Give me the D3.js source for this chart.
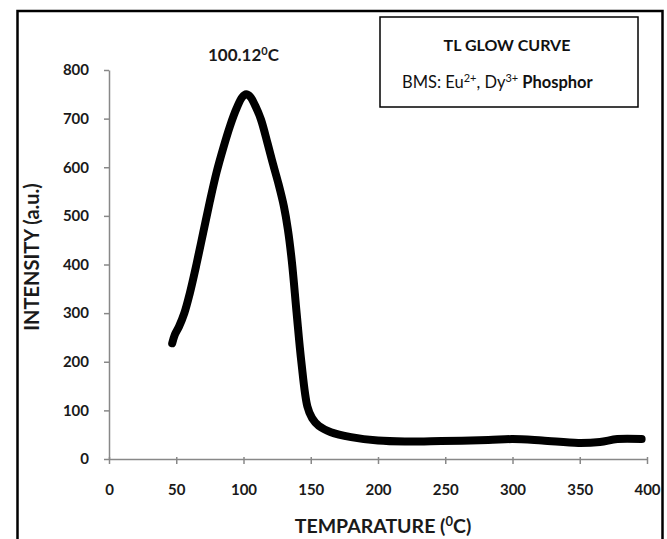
<!DOCTYPE html>
<html>
<head>
<meta charset="utf-8">
<script src="https://cdn.jsdelivr.net/npm/d3@7"></script>
<style>
  body { margin: 0; background: #fff; }
  text { font-family: Lato, 'Open Sans', sans-serif; }
</style>
</head>
<body>
<div id="chart"></div>
<script>
// TL glow curve
const temperature = [47, 49, 52, 56, 60, 65, 70, 75, 80, 85, 90, 95, 99, 102, 105, 109, 113, 118, 122, 126, 130,
  133, 136, 139.5, 143, 147.5, 151, 156, 165, 180, 200, 220, 247, 282, 300, 322, 349, 365, 378, 396];
const intensity = [238, 256, 272, 300, 340, 400, 465, 530, 590, 640, 685, 722, 744, 750, 745, 725, 698, 648, 606, 566, 520,
  472, 405, 300, 200, 108, 84, 68, 55, 45, 38, 36, 37, 39, 41, 38, 33, 35, 41, 41];
const xTicks = [0, 50, 100, 150, 200, 250, 300, 350, 400];
const yTicks = [0, 100, 200, 300, 400, 500, 600, 700, 800];

const W = 667;
const H = 539;
const margin = { left: 109, right: 20, top: 70, bottom: 80 };

const svg = d3.select('#chart')
  .append('svg')
  .attr('width', W)
  .attr('height', H);

// outer frame
svg.append('rect')
  .attr('x', 17.5).attr('y', 11)
  .attr('width', 645).attr('height', 540)
  .attr('fill', 'none')
  .attr('stroke', '#000')
  .attr('stroke-width', 2.5);

const x = d3.scaleLinear().domain([0, 400]).range([margin.left, W - margin.right]);
const y = d3.scaleLinear().domain([0, 800]).range([H - margin.bottom, margin.top]);

// y axis
const yAxis = svg.append('g')
  .attr('transform', `translate(${margin.left},0)`)
  .call(d3.axisLeft(y).tickValues(yTicks).tickSize(5).tickPadding(15).tickSizeOuter(0));
yAxis.select('.domain').attr('stroke', '#888').attr('stroke-width', 1.5);
yAxis.selectAll('.tick line').attr('stroke', '#888').attr('stroke-width', 1.5);
yAxis.selectAll('.tick text')
  .attr('fill', '#1a1a1a')
  .style('font-size', '15px')
  .style('font-weight', 'bold');

// x axis
const xAxis = svg.append('g')
  .attr('transform', `translate(0,${y(0)})`)
  .call(d3.axisBottom(x).tickValues(xTicks).tickSize(5).tickPadding(20).tickSizeOuter(0));
xAxis.select('.domain').attr('stroke', '#888').attr('stroke-width', 1.5);
xAxis.selectAll('.tick line').attr('stroke', '#888').attr('stroke-width', 1.5).attr('y1', -2);
xAxis.selectAll('.tick text')
  .attr('fill', '#1a1a1a')
  .style('font-size', '15px')
  .style('font-weight', 'bold');

// glow curve
const pts = temperature.map((t, i) => [t, intensity[i]]);
const line = d3.line()
  .x(d => x(d[0]))
  .y(d => y(d[1]))
  .curve(d3.curveCatmullRom.alpha(0.5));

svg.append('path')
  .datum(pts)
  .attr('d', line)
  .attr('fill', 'none')
  .attr('stroke', '#000')
  .attr('stroke-width', 8)
  .attr('stroke-linecap', 'round')
  .attr('stroke-linejoin', 'round');

// peak label
const peak = svg.append('text')
  .attr('x', x(100))
  .attr('y', 61)
  .attr('text-anchor', 'middle')
  .style('font-size', '17px')
  .style('font-weight', 'bold')
  .attr('fill', '#1a1a1a');
peak.append('tspan').text('100.12');
peak.append('tspan').attr('dy', -6).style('font-size', '11px').text('0');
peak.append('tspan').attr('dy', 6).text('C');

// legend box
svg.append('rect')
  .attr('x', 380).attr('y', 17)
  .attr('width', 258).attr('height', 90)
  .attr('fill', '#fff')
  .attr('stroke', '#000')
  .attr('stroke-width', 1.5);

svg.append('text')
  .attr('x', 507)
  .attr('y', 51)
  .attr('text-anchor', 'middle')
  .style('font-size', '16px')
  .style('font-weight', 'bold')
  .attr('fill', '#111')
  .text('TL GLOW CURVE');

const sub = svg.append('text')
  .attr('x', 402)
  .attr('y', 88)
  .style('font-size', '16.5px')
  .attr('fill', '#111');
sub.append('tspan').text('BMS: Eu');
sub.append('tspan').attr('dy', -6).style('font-size', '11px').text('2+');
sub.append('tspan').attr('dy', 6).text(', Dy');
sub.append('tspan').attr('dy', -6).style('font-size', '11px').text('3+');
sub.append('tspan').attr('dy', 6).style('font-weight', 'bold').text(' Phosphor');

// axis titles
svg.append('text')
  .attr('transform', 'translate(39,257) rotate(-90)')
  .attr('text-anchor', 'middle')
  .style('font-size', '20px')
  .style('font-weight', 'bold')
  .attr('fill', '#1a1a1a')
  .text('INTENSITY (a.u.)');

const xt = svg.append('text')
  .attr('x', 383)
  .attr('y', 533)
  .attr('text-anchor', 'middle')
  .style('font-size', '19.5px')
  .style('font-weight', 'bold')
  .attr('fill', '#1a1a1a');
xt.append('tspan').text('TEMPARATURE (');
xt.append('tspan').attr('dy', -7).style('font-size', '13px').text('0');
xt.append('tspan').attr('dy', 7).text('C)');
</script>
</body>
</html>
